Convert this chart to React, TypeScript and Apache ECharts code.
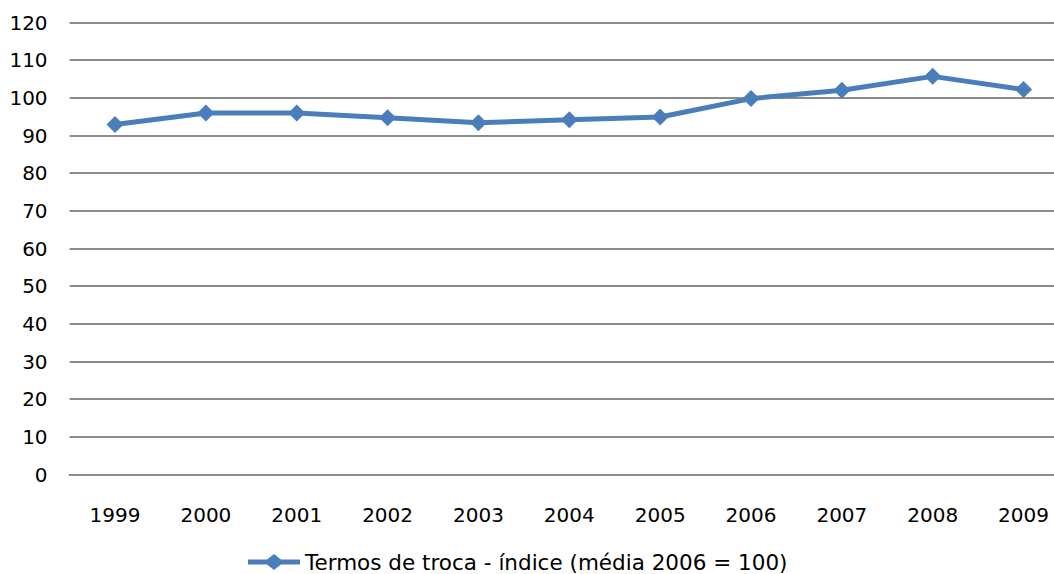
import React, { useEffect, useRef } from "react";
import * as echarts from "echarts";

const years: string[] = ["1999", "2000", "2001", "2002", "2003", "2004", "2005", "2006", "2007", "2008", "2009"];
const termosDeTroca: number[] = [92.9, 96.0, 96.0, 94.7, 93.4, 94.2, 94.9, 99.8, 102.0, 105.7, 102.2];
const seriesName = "Termos de troca - índice (média 2006 = 100)";

const FONT = "'DejaVu Sans', 'Liberation Sans', Arial, sans-serif";
const LINE_COLOR = "#4a7ebb";
const GRID_COLOR = "#8c8c8c";

// The plot area runs a little past the visible right edge, so the chart
// canvas is wider than the clipping frame around it.
const FRAME_W = 1054;
const CHART_W = 1069;
const H = 574;

export default function App() {
  const ref = useRef<HTMLDivElement>(null);

  useEffect(() => {
    if (!ref.current) return;
    const chart = echarts.init(ref.current, undefined, { renderer: "svg" });
    chart.setOption({
      animation: false,
      backgroundColor: "#ffffff",
      textStyle: { fontFamily: FONT },
      grid: { left: 69.6, right: 0, top: 22.5, bottom: 99.5, containLabel: false },
      legend: {
        top: 551,
        left: 248,
        itemWidth: 52,
        itemHeight: 16,
        itemGap: 6,
        padding: 0,
        textStyle: { fontFamily: FONT, fontSize: 21.5, lineHeight: 22, color: "#000000" },
        data: [{ name: seriesName, icon: "path://M0,5.5 L19,5.5 L26,0 L33,5.5 L52,5.5 L52,10.5 L33,10.5 L26,16 L19,10.5 L0,10.5 Z" }],
      },
      xAxis: {
        type: "category",
        data: years,
        boundaryGap: true,
        axisLine: { show: true, lineStyle: { color: GRID_COLOR, width: 2 } },
        axisTick: { show: false },
        axisLabel: { color: "#000000", fontSize: 20, fontFamily: FONT, margin: 30 },
      },
      yAxis: {
        type: "value",
        min: 0,
        max: 120,
        interval: 10,
        axisLine: { show: false },
        axisTick: { show: false },
        axisLabel: { color: "#000000", fontSize: 20, fontFamily: FONT, margin: 22 },
        splitLine: { lineStyle: { color: GRID_COLOR, width: 2 } },
      },
      series: [
        {
          name: seriesName,
          type: "line",
          data: termosDeTroca,
          symbol: "diamond",
          symbolSize: 17,
          itemStyle: { color: LINE_COLOR },
          lineStyle: { color: LINE_COLOR, width: 5 },
        },
      ],
    });
    return () => chart.dispose();
  }, []);

  return (
    <div style={{ position: "absolute", left: 0, top: 0, width: FRAME_W, height: H, overflow: "hidden", background: "#fff" }}>
      <div ref={ref} style={{ width: CHART_W, height: H }} />
    </div>
  );
}
